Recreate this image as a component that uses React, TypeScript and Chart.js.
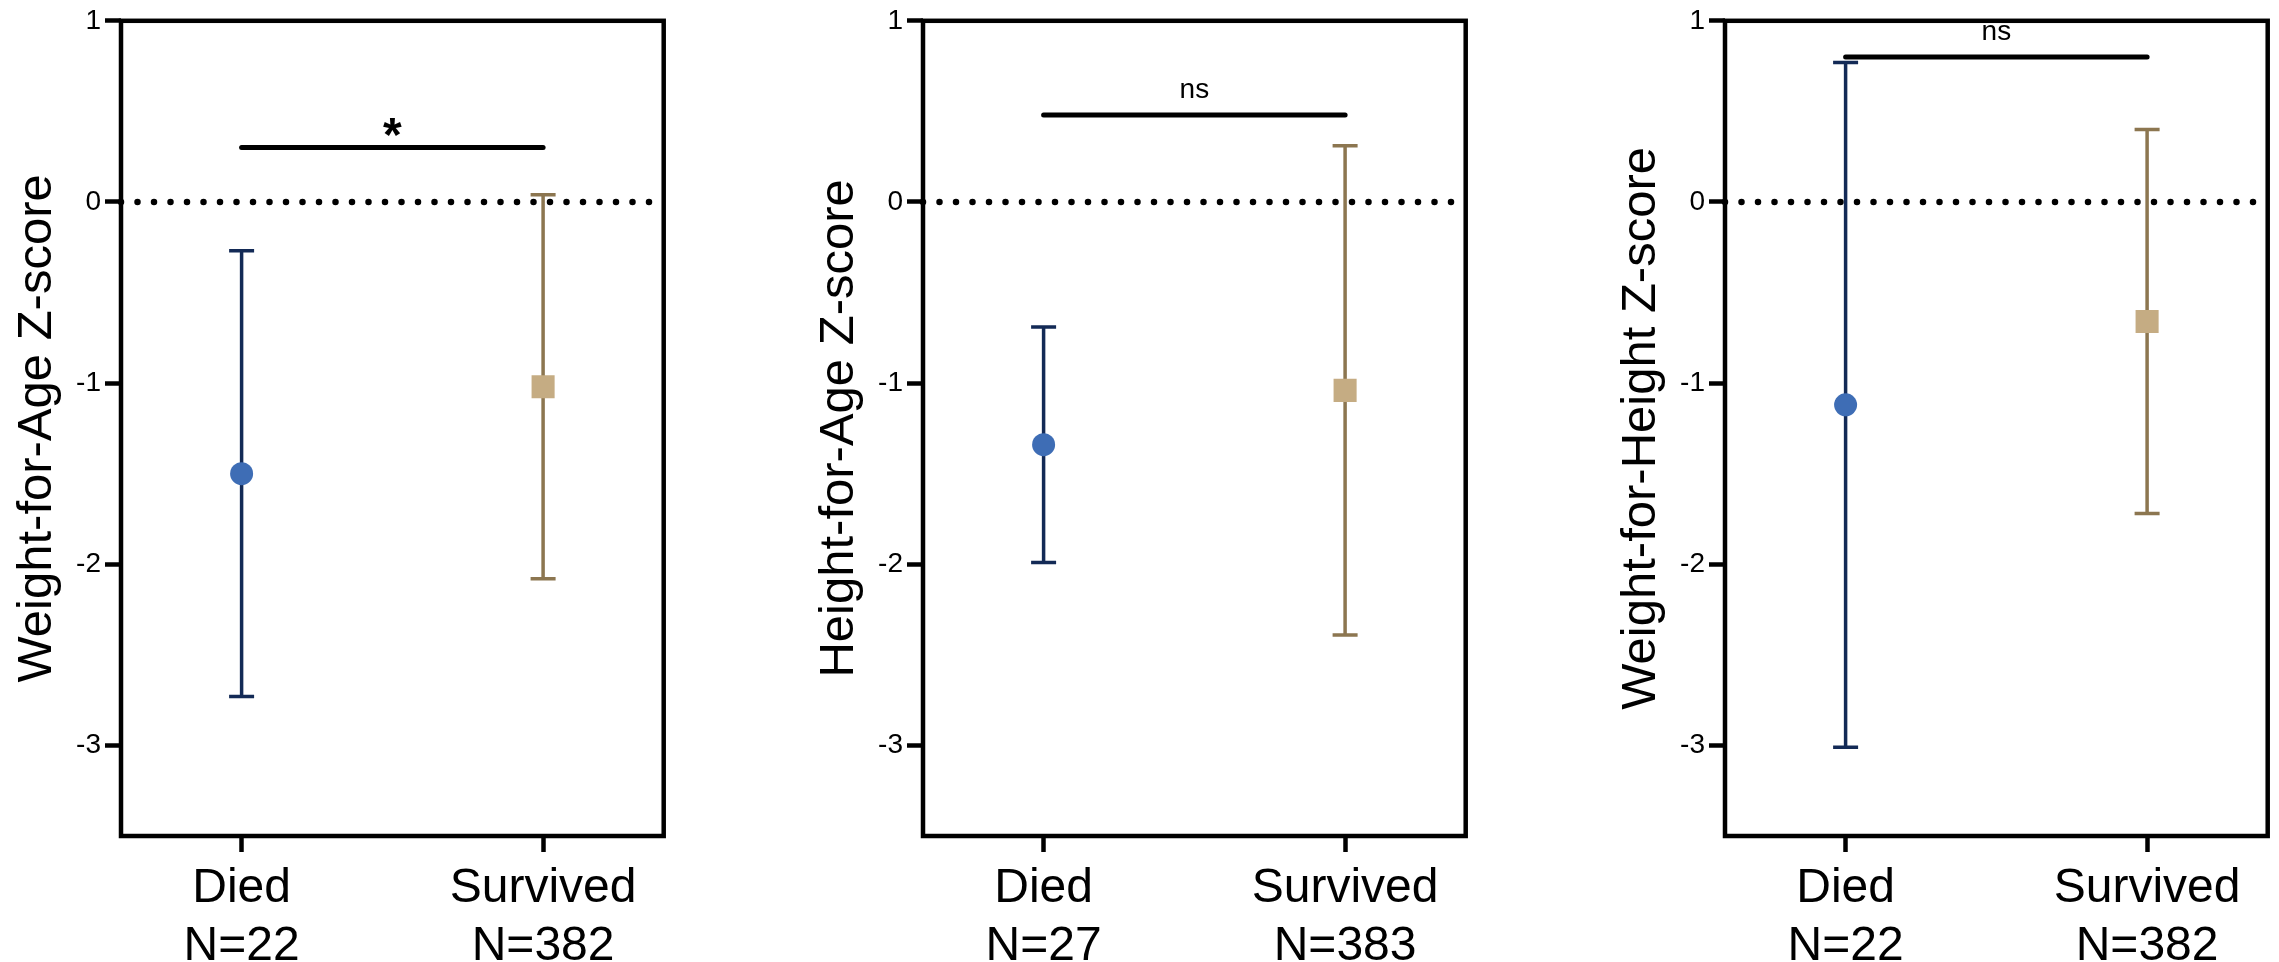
import { useEffect, useRef } from 'react';
import { Chart, registerables } from 'chart.js';

Chart.register(...registerables);

// Groups compared in every panel
const groups = ['Died', 'Survived'];
const groupPositions = [0, 1];

// One entry per panel
const panelTitles = ['Weight-for-Age Z-score', 'Height-for-Age Z-score', 'Weight-for-Height Z-score'];
const sampleSizes = [[22, 382], [27, 383], [22, 382]];
const meanValues = [[-1.5, -1.02], [-1.34, -1.04], [-1.12, -0.66]];
const lowerValues = [[-2.73, -2.08], [-1.99, -2.39], [-3.01, -1.72]];
const upperValues = [[-0.27, 0.04], [-0.69, 0.31], [0.77, 0.4]];
const sigBarLevels = [0.3, 0.48, 0.8];
const sigBarLabels = ['*', 'ns', 'ns'];

// Axis settings
const yTickValues = [1, 0, -1, -2, -3];
const yMin = -3.5;
const yMax = 1;
const xMin = -0.4;
const xMax = 1.4;
const referenceLevel = 0;

const FONT = "'Liberation Sans', Arial, Helvetica, sans-serif";
const markerFill = ['#3e6db5', '#c5ac83'];
const whiskerColor = ['#132a56', '#8c7650'];
const markerStyle = ['circle', 'rect'];
const markerRadius = [11.5, 16.3];

const CANVAS_W = 680;
const CANVAS_H = 962;
const PANEL_STEP = 802;

function overlayPlugin(p: number) {
  return {
    id: 'zscoreOverlay' + p,
    beforeDatasetsDraw(chart: any) {
      const { ctx, chartArea: a, scales } = chart;
      const x = scales.x;
      const y = scales.y;

      // dotted reference line at z = 0
      const y0 = y.getPixelForValue(referenceLevel);
      ctx.save();
      ctx.beginPath();
      ctx.setLineDash([0, 16.5]);
      ctx.lineCap = 'round';
      ctx.lineWidth = 6.5;
      ctx.strokeStyle = '#000';
      ctx.moveTo(a.left, y0);
      ctx.lineTo(a.right, y0);
      ctx.stroke();
      ctx.restore();

      // error bars with caps
      groups.forEach((_, i) => {
        const px = x.getPixelForValue(groupPositions[i]);
        const lo = y.getPixelForValue(lowerValues[p][i]);
        const hi = y.getPixelForValue(upperValues[p][i]);
        ctx.save();
        ctx.strokeStyle = whiskerColor[i];
        ctx.lineWidth = 3.5;
        ctx.beginPath();
        ctx.moveTo(px, lo);
        ctx.lineTo(px, hi);
        ctx.moveTo(px - 12.5, lo);
        ctx.lineTo(px + 12.5, lo);
        ctx.moveTo(px - 12.5, hi);
        ctx.lineTo(px + 12.5, hi);
        ctx.stroke();
        ctx.restore();
      });
    },
    afterDraw(chart: any) {
      const { ctx, chartArea: a, scales } = chart;
      const x = scales.x;
      const y = scales.y;

      // frame around the plot area
      ctx.save();
      ctx.strokeStyle = '#000';
      ctx.lineWidth = 4.5;
      ctx.lineJoin = 'miter';
      ctx.strokeRect(a.left, a.top, a.right - a.left, a.bottom - a.top);
      ctx.restore();

      // significance bar
      const ys = y.getPixelForValue(sigBarLevels[p]);
      const x0 = x.getPixelForValue(groupPositions[0]);
      const x1 = x.getPixelForValue(groupPositions[1]);
      ctx.save();
      ctx.strokeStyle = '#000';
      ctx.lineWidth = 5;
      ctx.lineCap = 'round';
      ctx.beginPath();
      ctx.moveTo(x0, ys);
      ctx.lineTo(x1, ys);
      ctx.stroke();
      ctx.fillStyle = '#000';
      ctx.textAlign = 'center';
      ctx.textBaseline = 'alphabetic';
      const label = sigBarLabels[p];
      if (label === '*') {
        ctx.font = `bold 48px ${FONT}`;
        ctx.fillText(label, (x0 + x1) / 2, ys + 3);
      } else {
        ctx.font = `28px ${FONT}`;
        ctx.fillText(label, (x0 + x1) / 2, ys - 17);
      }
      ctx.restore();
    },
  };
}

function Panel({ index }: { index: number }) {
  const ref = useRef<HTMLCanvasElement | null>(null);

  useEffect(() => {
    const canvas = ref.current;
    if (!canvas) return;
    const p = index;
    const tickGrid = {
      drawOnChartArea: false,
      drawTicks: true,
      tickLength: 16,
      tickWidth: 4.5,
      tickColor: '#000',
      color: '#000',
    };
    const chart = new Chart(canvas, {
      type: 'scatter',
      data: {
        datasets: [
          {
            data: groupPositions.map((gx, i) => ({ x: gx, y: meanValues[p][i] })),
            pointStyle: markerStyle as any,
            pointRadius: markerRadius,
            backgroundColor: markerFill,
            borderWidth: 0,
            showLine: false,
          },
        ],
      },
      options: {
        animation: false,
        responsive: false,
        devicePixelRatio: 1,
        events: [],
        layout: { padding: { top: 19, right: CANVAS_W - 121 - 543, left: 0, bottom: 0 } },
        plugins: { legend: { display: false }, tooltip: { enabled: false } },
        scales: {
          x: {
            type: 'linear',
            min: xMin,
            max: xMax,
            afterBuildTicks: (s: any) => {
              s.ticks = groupPositions.map((v) => ({ value: v }));
            },
            afterFit: (s: any) => {
              s.height = 126;
            },
            border: { display: false },
            grid: tickGrid,
            ticks: {
              autoSkip: false,
              maxRotation: 0,
              padding: 8,
              color: '#000',
              font: { family: FONT, size: 48, lineHeight: 1.2 },
              callback: (v: any) => {
                const i = groupPositions.indexOf(Number(v));
                return [groups[i], 'N=' + sampleSizes[p][i]];
              },
            },
          },
          y: {
            type: 'linear',
            min: yMin,
            max: yMax,
            afterBuildTicks: (s: any) => {
              s.ticks = yTickValues.map((v) => ({ value: v }));
            },
            afterFit: (s: any) => {
              s.width = 121;
            },
            border: { display: false },
            grid: tickGrid,
            ticks: {
              padding: 4,
              color: '#000',
              font: { family: FONT, size: 28 },
              callback: (v: any) => String(v),
            },
            title: {
              display: true,
              text: panelTitles[p],
              color: '#000',
              font: { family: FONT, size: 49 },
              padding: { top: 8, bottom: 0 },
            },
          },
        },
      },
      plugins: [overlayPlugin(p)],
    });
    return () => chart.destroy();
  }, [index]);

  return (
    <canvas
      ref={ref}
      width={CANVAS_W}
      height={CANVAS_H}
      style={{
        position: 'absolute',
        left: index * PANEL_STEP,
        top: 0,
        width: CANVAS_W,
        height: CANVAS_H,
      }}
    />
  );
}

export default function App() {
  return (
    <div
      style={{
        position: 'fixed',
        left: 0,
        top: 0,
        width: 2279,
        height: 962,
        background: '#fff',
        overflow: 'hidden',
      }}
    >
      {panelTitles.map((_, i) => (
        <Panel key={i} index={i} />
      ))}
    </div>
  );
}
